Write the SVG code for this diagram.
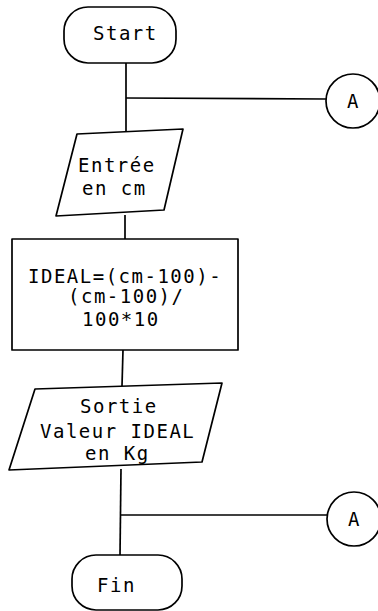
<svg xmlns="http://www.w3.org/2000/svg" width="378" height="611" viewBox="0 0 378 611">
<style>
.s{fill:#fff;stroke:#000;stroke-width:1.7;stroke-linejoin:round}
.c{fill:none;stroke:#000;stroke-width:1.7}
text{font-family:"DejaVu Sans Mono","Liberation Mono",monospace;font-size:19px;fill:#000;letter-spacing:1.5px}
</style>
<rect width="378" height="611" fill="#fff"/>
<g id="connectors">
<line class="c" x1="126" y1="63" x2="126" y2="132"/>
<line class="c" x1="126" y1="98" x2="326" y2="99"/>
<line class="c" x1="125" y1="215" x2="125" y2="239"/>
<line class="c" x1="123" y1="350" x2="122" y2="386"/>
<line class="c" x1="121" y1="469" x2="120" y2="556"/>
<line class="c" x1="121" y1="515" x2="327" y2="515"/>
</g>
<g id="start">
<rect class="s" x="64" y="7" width="112" height="56" rx="24" ry="24"/>
<text x="93" y="40">Start</text>
</g>
<g id="connA1">
<circle class="s" cx="353" cy="101" r="27"/>
<text x="347" y="108">A</text>
</g>
<g id="entree">
<polygon class="s" points="77,134 183,129 164,210 56,216"/>
<text x="78" y="172">Entrée</text>
<text x="82" y="195">en cm</text>
</g>
<g id="calc">
<rect class="s" x="12" y="239" width="226" height="111"/>
<text x="28" y="283">IDEAL=(cm-100)-</text>
<text x="68" y="303">(cm-100)/</text>
<text x="82" y="326">100*10</text>
</g>
<g id="sortie">
<polygon class="s" points="35,389 222,383 202,462 9,470"/>
<text x="80" y="413">Sortie</text>
<text x="40" y="438">Valeur IDEAL</text>
<text x="85" y="460">en Kg</text>
</g>
<g id="connA2">
<circle class="s" cx="354" cy="519" r="27"/>
<text x="348" y="526">A</text>
</g>
<g id="fin">
<rect class="s" x="72" y="555" width="110" height="55" rx="24" ry="24"/>
<text x="97" y="592">Fin</text>
</g>
</svg>
